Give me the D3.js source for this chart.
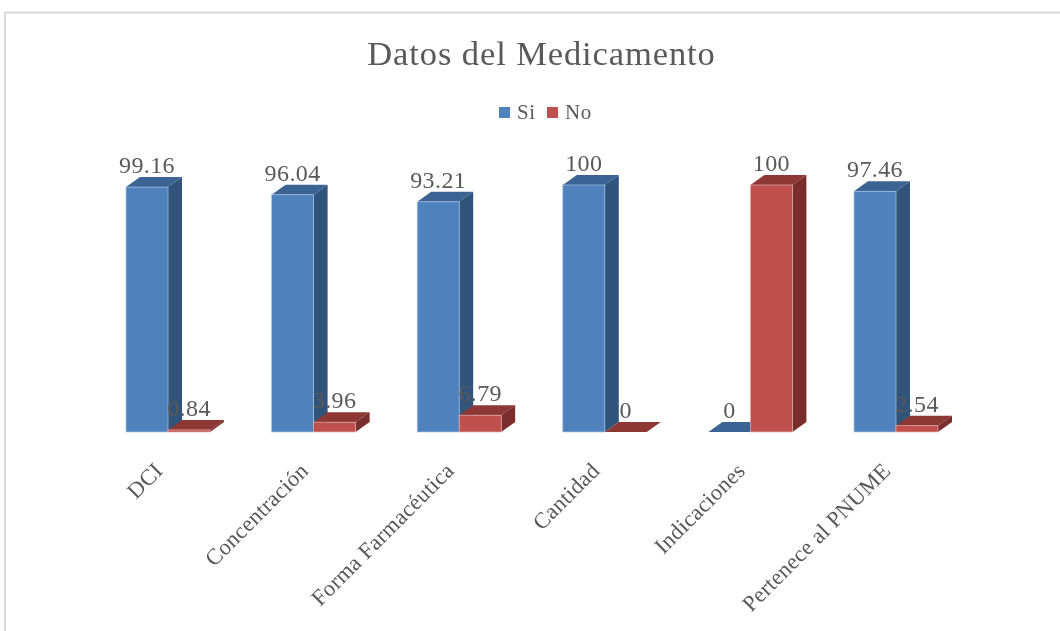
<!DOCTYPE html>
<html>
<head>
<meta charset="utf-8">
<script src="https://cdn.jsdelivr.net/npm/d3@7"></script>
<style>
  html, body { margin: 0; padding: 0; background: #fff; }
  svg { display: block; filter: blur(0.35px); }
  text { font-family: "Liberation Serif", serif; fill: #595959; }
</style>
</head>
<body>
<div id="chart"></div>
<script>
//Data
var categories = ["DCI", "Concentración", "Forma Farmacéutica", "Cantidad", "Indicaciones", "Pertenece al PNUME"];
var seriesNames = ["Si", "No"];
var siValues = [99.16, 96.04, 93.21, 100, 0, 97.46];
var noValues = [0.84, 3.96, 6.79, 0, 100, 2.54];

//Colors: front, top, side, edge
var colors = {
    Si: {front: "#4f81bd", top: "#3b6394", side: "#31547d", edge: "#a9c3e2"},
    No: {front: "#c0504d", top: "#8e3836", side: "#7a2e2c", edge: "#e3b1af"}
};

var width = 1060, height = 631;
var depthX = 14, depthY = 10;

var svg = d3.select("#chart")
    .append("svg")
    .attr("width", width)
    .attr("height", height);

//Frame
svg.append("path")
    .attr("d", "M5,631V12.5H1060")
    .attr("fill", "none")
    .attr("stroke", "#d9d9d9")
    .attr("stroke-width", 2);

//Scales
var x0 = d3.scaleBand()
    .domain(categories)
    .range([126, 938])
    .paddingInner(0.423)
    .paddingOuter(0);

var x1 = d3.scaleBand()
    .domain(seriesNames)
    .range([0, x0.bandwidth()]);

var y = d3.scaleLinear()
    .domain([0, 100])
    .range([432, 185]);

//Title
svg.append("text")
    .attr("x", 541.5)
    .attr("y", 65)
    .attr("text-anchor", "middle")
    .style("font-size", "34.5px")
    .style("letter-spacing", "0.9px")
    .text("Datos del Medicamento");

//Legend
var legendX = {Si: 499, No: 547};
seriesNames.forEach(function(name) {
    svg.append("rect")
        .attr("x", legendX[name])
        .attr("y", 107)
        .attr("width", 11)
        .attr("height", 11)
        .attr("fill", colors[name].front);
    svg.append("text")
        .attr("x", legendX[name] + 18)
        .attr("y", 119)
        .style("font-size", "21px")
        .style("letter-spacing", "0.6px")
        .text(name);
});

//Flatten series for drawing
var bars = [];
categories.forEach(function(cat, i) {
    bars.push({cat: cat, name: "Si", value: siValues[i]});
    bars.push({cat: cat, name: "No", value: noValues[i]});
});

var bar = svg.selectAll(".bar")
    .data(bars)
    .enter()
    .append("g")
    .attr("class", "bar");

function left(d) { return x0(d.cat) + x1(d.name); }

//Top face
bar.append("path")
    .attr("d", function(d) {
        var l = left(d), r = l + x1.bandwidth(), t = y(d.value);
        return "M" + l + "," + t + "L" + (l + depthX) + "," + (t - depthY) +
            "L" + (r + depthX) + "," + (t - depthY) + "L" + r + "," + t + "Z";
    })
    .attr("fill", function(d) { return colors[d.name].top; });

//Side face
bar.append("path")
    .attr("d", function(d) {
        var r = left(d) + x1.bandwidth(), t = y(d.value), b = y(0);
        return "M" + r + "," + t + "L" + (r + depthX) + "," + (t - depthY) +
            "L" + (r + depthX) + "," + (b - depthY) + "L" + r + "," + b + "Z";
    })
    .attr("fill", function(d) { return colors[d.name].side; });

//Front face
bar.append("rect")
    .attr("x", left)
    .attr("y", function(d) { return y(d.value); })
    .attr("width", x1.bandwidth())
    .attr("height", function(d) { return y(0) - y(d.value); })
    .attr("fill", function(d) { return colors[d.name].front; })
    .attr("stroke", function(d) { return colors[d.name].edge; })
    .attr("stroke-width", 0.7);

//Data labels
bar.append("text")
    .attr("x", function(d) { return left(d) + x1.bandwidth() / 2; })
    .attr("y", function(d) { return y(d.value) - 14; })
    .attr("text-anchor", "middle")
    .style("font-size", "24px")
    .style("letter-spacing", "0.4px")
    .text(function(d) { return d.value; });

//Category axis
var axis = svg.append("g")
    .attr("transform", "translate(0,432)")
    .call(d3.axisBottom(x0).tickSize(0));

axis.select(".domain").remove();

axis.selectAll("text")
    .attr("x", -4)
    .attr("y", 40)
    .attr("dy", 0)
    .attr("text-anchor", "end")
    .attr("transform", "rotate(-45 -4 40)")
    .style("font-family", "\"Liberation Serif\", serif")
    .style("font-size", "22.5px")
    .style("letter-spacing", "0.3px")
    .style("fill", "#595959");
</script>
</body>
</html>
